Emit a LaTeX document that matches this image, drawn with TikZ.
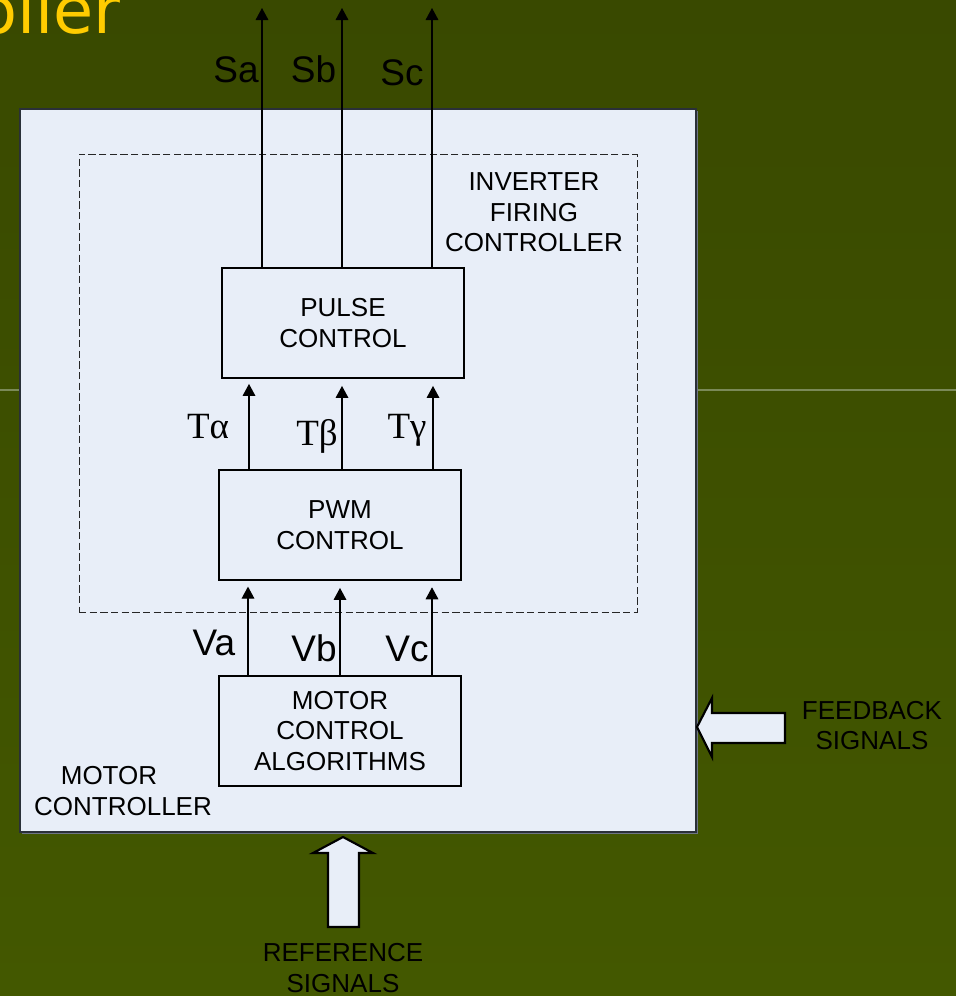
\documentclass[tikz,border=0pt]{standalone}
\usepackage{fontspec}
\setmainfont{Liberation Sans}
\newfontfamily\seriffont{Liberation Serif}
\newfontfamily\titlefont{DejaVu Sans}
\usetikzlibrary{arrows.meta,shadows}
\definecolor{bgtop}{HTML}{394900}
\definecolor{bgbot}{HTML}{435800}
\definecolor{boxfill}{HTML}{E8EEF8}
\definecolor{titleyellow}{HTML}{FFCC00}
\definecolor{shadowgrey}{HTML}{6E7585}
\definecolor{faint}{HTML}{7B8A58}
\definecolor{outerline}{HTML}{2A3038}
\begin{document}
\begin{tikzpicture}[x=0.75pt,y=-0.75pt,
  lbl/.style={font=\fontsize{19.5pt}{23pt}\selectfont, align=center, inner sep=0pt},
  biglbl/.style={font=\fontsize{27.75pt}{32pt}\selectfont, inner sep=0pt, anchor=base},
  greek/.style={font=\fontsize{27.75pt}{32pt}\seriffont, inner sep=0pt, anchor=base},
  blockbox/.style={draw=black, line width=0.9pt, fill=boxfill,
    minimum width=181.5pt, minimum height=82.5pt, inner sep=0pt, align=center,
    font=\fontsize{19.5pt}{23pt}\selectfont,
    drop shadow={shadow xshift=0.6pt, shadow yshift=-0.9pt, fill=shadowgrey, opacity=0.7}},
  sig/.style={line width=0.9pt, -{Triangle[width=9.5pt,length=9pt]}},
  fat/.style={draw=black, line width=1.6pt, fill=boxfill, line join=miter}
]
% background
\shade[top color=bgtop, bottom color=bgbot] (0,0) rectangle (956,996);
\useasboundingbox (0,0) rectangle (956,996);
\draw[faint, line width=0.8pt] (0,390) -- (956,390);
% title fragment
\node[font=\fontsize{49pt}{49pt}\titlefont, text=titleyellow, inner sep=0pt, anchor=base east] (title) at (121,33) {oller};
% outer box
\node[draw=outerline, line width=0.8pt, fill=boxfill, minimum width=507pt, minimum height=542.25pt, inner sep=0pt,
  drop shadow={shadow xshift=1.4pt, shadow yshift=-1.4pt, fill=shadowgrey, opacity=1}] (outer) at (358,470.5) {};
% dashed inverter box
\node[draw=black!85, line width=0.75pt, dash pattern=on 5.5pt off 2.5pt, minimum width=418.5pt, minimum height=343.5pt, inner sep=0pt] (inv) at (358,383) {};
\node[lbl] (invlbl) at (534,212.5) {INVERTER\\FIRING\\CONTROLLER};
% blocks
\node[blockbox] (pulse) at (343,323) {PULSE\\CONTROL};
\node[blockbox] (pwm) at (340,525) {PWM\\CONTROL};
\node[blockbox] (motor) at (340,731) {MOTOR\\CONTROL\\ALGORITHMS};
% output arrows
\coordinate (sa) at (262,8);
\coordinate (sb) at (342,8);
\coordinate (sc) at (432,8);
\draw[sig] (pulse.north -| sa) -- (sa);
\draw[sig] (pulse.north -| sb) -- (sb);
\draw[sig] (pulse.north -| sc) -- (sc);
\node[biglbl] (salbl) at (236,82) {Sa};
\node[biglbl] (sblbl) at (313.5,82) {Sb};
\node[biglbl] (sclbl) at (402,85) {Sc};
% T arrows
\coordinate (xta) at (249,0);
\coordinate (xtb) at (342,0);
\coordinate (xtc) at (433,0);
\draw[sig, shorten >=4pt] (pwm.north -| xta) -- (pulse.south -| xta);
\draw[sig, shorten >=5.5pt] (pwm.north -| xtb) -- (pulse.south -| xtb);
\draw[sig, shorten >=5.5pt] (pwm.north -| xtc) -- (pulse.south -| xtc);
\node[greek] (talbl) at (208,438) {Tα};
\node[greek] (tblbl) at (317,445) {Tβ};
\node[greek] (tclbl) at (407,438) {Tγ};
% V arrows
\coordinate (xva) at (248,0);
\coordinate (xvb) at (340,0);
\coordinate (xvc) at (432,0);
\draw[sig, shorten >=4.5pt] (motor.north -| xva) -- (pwm.south -| xva);
\draw[sig, shorten >=5.5pt] (motor.north -| xvb) -- (pwm.south -| xvb);
\draw[sig, shorten >=5pt] (motor.north -| xvc) -- (pwm.south -| xvc);
\node[biglbl] (valbl) at (214,655) {Va};
\node[biglbl] (vblbl) at (314,661) {Vb};
\node[biglbl] (vclbl) at (407,661) {Vc};
% motor controller label
\node[lbl] (mc1) at (109,776) {MOTOR};
\node[lbl] (mc2) at (123,807) {CONTROLLER};
% feedback arrow
\draw[fat] (697,727) -- (712,698) -- (712,713) -- (785,713) -- (785,743) -- (712,743) -- (712,757) -- cycle;
\node[lbl] (fb) at (872,725.5) {FEEDBACK\\SIGNALS};
% reference arrow
\draw[fat] (343,837) -- (373,853) -- (359,853) -- (359,927) -- (328,927) -- (328,853) -- (313,853) -- cycle;
\node[lbl] (ref) at (343,968) {REFERENCE\\SIGNALS};
\end{tikzpicture}
\end{document}
